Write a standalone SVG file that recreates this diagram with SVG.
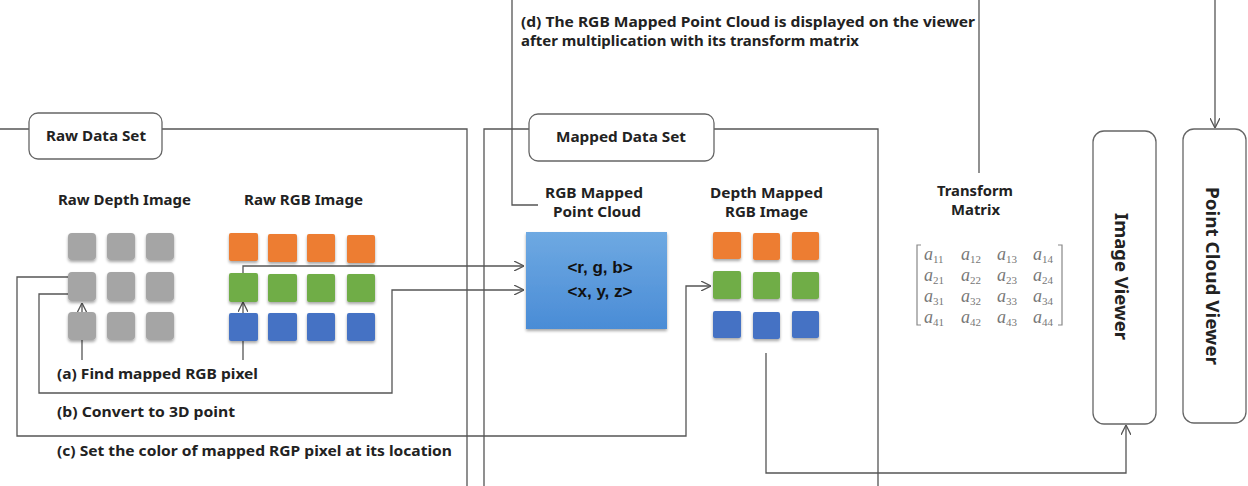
<svg xmlns="http://www.w3.org/2000/svg" width="1248" height="486" viewBox="0 0 1248 486">
<defs>
<style>
.t{font-family:"Noto Sans","Liberation Sans",sans-serif;font-weight:bold;fill:#222;font-size:15px;}
.v{font-family:"Noto Sans","Liberation Sans",sans-serif;font-weight:bold;fill:#222;font-size:18px;}
.ln{fill:none;stroke:#555;stroke-width:1.3;}
.lbl{fill:#fff;stroke:#666;stroke-width:1.3;}
.gr{fill:#a5a5a5;filter:url(#sh);}
.or{fill:#ed7d31;filter:url(#sh);}
.gn{fill:#70ad47;filter:url(#sh);}
.bl{fill:#4472c4;filter:url(#sh);}
.m{font-family:"Liberation Serif","DejaVu Serif",serif;font-style:italic;font-size:18px;fill:#777;}
.s{font-size:11px;font-style:normal;}
</style>
<filter id="sh" x="-30%" y="-30%" width="160%" height="160%">
<feGaussianBlur in="SourceAlpha" stdDeviation="1.5"/>
<feOffset dx="0" dy="2" result="b"/>
<feComponentTransfer><feFuncA type="linear" slope="0.35"/></feComponentTransfer>
<feMerge><feMergeNode/><feMergeNode in="SourceGraphic"/></feMerge>
</filter>
<linearGradient id="bg" x1="0" y1="0" x2="0" y2="1">
<stop offset="0" stop-color="#6ea9e2"/>
<stop offset="1" stop-color="#4a8cd6"/>
</linearGradient>
<marker id="ah" viewBox="0 0 10 10" refX="10" refY="5" markerWidth="10" markerHeight="10" markerUnits="userSpaceOnUse" orient="auto">
<path d="M0,0 L10,5 L0,10" fill="none" stroke="#555" stroke-width="1.3"/>
</marker>
</defs>
<rect width="1248" height="486" fill="#fff"/>

<g id="connectors">
<path class="ln" d="M0,129 H467 V486"/>
<path class="ln" d="M484,486 V129 H878 V486"/>
<path class="ln" d="M512,0 V205 H538"/>
<path class="ln" d="M979,0 V173"/>
<path class="ln" d="M1215,0 V128" marker-end="url(#ah)"/>
<path class="ln" d="M766,353 V473 H1126 V425" marker-end="url(#ah)"/>
<path class="ln" d="M82,360 V303" marker-end="url(#ah)"/>
<path class="ln" d="M243,360 V302" marker-end="url(#ah)"/>
<path class="ln" d="M243,273 V266 H524" marker-end="url(#ah)"/>
<path class="ln" d="M68,294 H39 V393 H392 V290 H524" marker-end="url(#ah)"/>
<path class="ln" d="M68,277 H17 V436 H686 V286 H711" marker-end="url(#ah)"/>
</g>

<g id="raw-data-set">
<rect class="lbl" x="29" y="113" width="133" height="46" rx="9"/>
<text class="t" x="46" y="141" textLength="100" lengthAdjust="spacingAndGlyphs">Raw Data Set</text>
</g>

<g id="mapped-data-set">
<rect class="lbl" x="529" y="114" width="185" height="47" rx="9"/>
<text class="t" x="556" y="142" textLength="130" lengthAdjust="spacingAndGlyphs">Mapped Data Set</text>
</g>

<g id="raw-depth-image">
<text class="t" x="58" y="205" textLength="133" lengthAdjust="spacingAndGlyphs">Raw Depth Image</text>
<rect class="gr" x="68" y="233" width="28" height="27" rx="4"/>
<rect class="gr" x="107" y="233" width="28" height="27" rx="4"/>
<rect class="gr" x="146" y="233" width="28" height="27" rx="4"/>
<rect class="gr" x="68" y="272" width="28" height="29" rx="4"/>
<rect class="gr" x="107" y="272" width="28" height="29" rx="4"/>
<rect class="gr" x="146" y="272" width="28" height="29" rx="4"/>
<rect class="gr" x="68" y="312" width="28" height="28" rx="4"/>
<rect class="gr" x="107" y="312" width="28" height="28" rx="4"/>
<rect class="gr" x="146" y="312" width="28" height="28" rx="4"/>
</g>

<g id="raw-rgb-image">
<text class="t" x="244" y="205" textLength="119" lengthAdjust="spacingAndGlyphs">Raw RGB Image</text>
<rect class="or" x="229" y="233" width="29" height="28" rx="2"/>
<rect class="or" x="268" y="234" width="29" height="28" rx="2"/>
<rect class="or" x="307" y="234" width="28" height="28" rx="2"/>
<rect class="or" x="347" y="235" width="28" height="28" rx="2"/>
<rect class="gn" x="229" y="273" width="29" height="29" rx="2"/>
<rect class="gn" x="268" y="274" width="29" height="28" rx="2"/>
<rect class="gn" x="307" y="274" width="28" height="28" rx="2"/>
<rect class="gn" x="347" y="274" width="28" height="28" rx="2"/>
<rect class="bl" x="229" y="313" width="29" height="28" rx="2"/>
<rect class="bl" x="268" y="313" width="29" height="28" rx="2"/>
<rect class="bl" x="307" y="313" width="28" height="28" rx="2"/>
<rect class="bl" x="347" y="313" width="28" height="28" rx="2"/>
</g>

<g id="rgb-mapped-point-cloud">
<text class="t" x="545" y="198" textLength="98" lengthAdjust="spacingAndGlyphs">RGB Mapped</text>
<text class="t" x="553" y="217" textLength="88" lengthAdjust="spacingAndGlyphs">Point Cloud</text>
<rect x="526" y="232" width="141" height="97" fill="url(#bg)" filter="url(#sh)"/>
<text x="600" y="273" font-family="Liberation Sans, Arial, sans-serif" font-weight="bold" font-size="17" text-anchor="middle" fill="#111">&lt;r, g, b&gt;</text>
<text x="600" y="297" font-family="Liberation Sans, Arial, sans-serif" font-weight="bold" font-size="17" text-anchor="middle" fill="#111">&lt;x, y, z&gt;</text>
</g>

<g id="depth-mapped-rgb-image">
<text class="t" x="710" y="198" textLength="113" lengthAdjust="spacingAndGlyphs">Depth Mapped</text>
<text class="t" x="725" y="217" textLength="83" lengthAdjust="spacingAndGlyphs">RGB Image</text>
<rect class="or" x="713" y="232" width="28" height="27" rx="2"/>
<rect class="or" x="753" y="233" width="27" height="27" rx="2"/>
<rect class="or" x="792" y="232" width="27" height="28" rx="2"/>
<rect class="gn" x="713" y="271" width="28" height="28" rx="2"/>
<rect class="gn" x="753" y="272" width="27" height="27" rx="2"/>
<rect class="gn" x="792" y="272" width="27" height="27" rx="2"/>
<rect class="bl" x="713" y="311" width="28" height="27" rx="2"/>
<rect class="bl" x="753" y="312" width="27" height="27" rx="2"/>
<rect class="bl" x="792" y="311" width="27" height="27" rx="2"/>
</g>

<g id="transform-matrix">
<text class="t" x="937" y="196" textLength="76" lengthAdjust="spacingAndGlyphs">Transform</text>
<text class="t" x="951" y="215" textLength="49" lengthAdjust="spacingAndGlyphs">Matrix</text>
<path d="M921,245 H917 V325 H921 M1058,245 H1062 V325 H1058" fill="none" stroke="#888" stroke-width="1.2"/>
<text class="m" x="924" y="260">a<tspan class="s" dy="3">11</tspan></text>
<text class="m" x="961" y="260">a<tspan class="s" dy="3">12</tspan></text>
<text class="m" x="997" y="260">a<tspan class="s" dy="3">13</tspan></text>
<text class="m" x="1033" y="260">a<tspan class="s" dy="3">14</tspan></text>
<text class="m" x="924" y="281">a<tspan class="s" dy="3">21</tspan></text>
<text class="m" x="961" y="281">a<tspan class="s" dy="3">22</tspan></text>
<text class="m" x="997" y="281">a<tspan class="s" dy="3">23</tspan></text>
<text class="m" x="1033" y="281">a<tspan class="s" dy="3">24</tspan></text>
<text class="m" x="924" y="302">a<tspan class="s" dy="3">31</tspan></text>
<text class="m" x="961" y="302">a<tspan class="s" dy="3">32</tspan></text>
<text class="m" x="997" y="302">a<tspan class="s" dy="3">33</tspan></text>
<text class="m" x="1033" y="302">a<tspan class="s" dy="3">34</tspan></text>
<text class="m" x="924" y="323">a<tspan class="s" dy="3">41</tspan></text>
<text class="m" x="961" y="323">a<tspan class="s" dy="3">42</tspan></text>
<text class="m" x="997" y="323">a<tspan class="s" dy="3">43</tspan></text>
<text class="m" x="1033" y="323">a<tspan class="s" dy="3">44</tspan></text>
</g>

<g id="image-viewer">
<rect class="lbl" x="1093" y="131" width="63" height="293" rx="11"/>
<text class="v" transform="translate(1115,213) rotate(90)" textLength="127" lengthAdjust="spacingAndGlyphs">Image Viewer</text>
</g>

<g id="point-cloud-viewer">
<rect class="lbl" x="1183" y="129" width="63" height="294" rx="11"/>
<text class="v" transform="translate(1206,187) rotate(90)" textLength="178" lengthAdjust="spacingAndGlyphs">Point Cloud Viewer</text>
</g>

<g id="labels">
<text class="t" x="521" y="27" textLength="454" lengthAdjust="spacingAndGlyphs">(d) The RGB Mapped Point Cloud is displayed on the viewer</text>
<text class="t" x="521" y="46" textLength="338" lengthAdjust="spacingAndGlyphs">after multiplication with its transform matrix</text>
<text class="t" x="57" y="379" textLength="201" lengthAdjust="spacingAndGlyphs">(a) Find mapped RGB pixel</text>
<text class="t" x="57" y="417" textLength="178" lengthAdjust="spacingAndGlyphs">(b) Convert to 3D point</text>
<text class="t" x="57" y="456" textLength="395" lengthAdjust="spacingAndGlyphs">(c) Set the color of mapped RGP pixel at its location</text>
</g>
</svg>
